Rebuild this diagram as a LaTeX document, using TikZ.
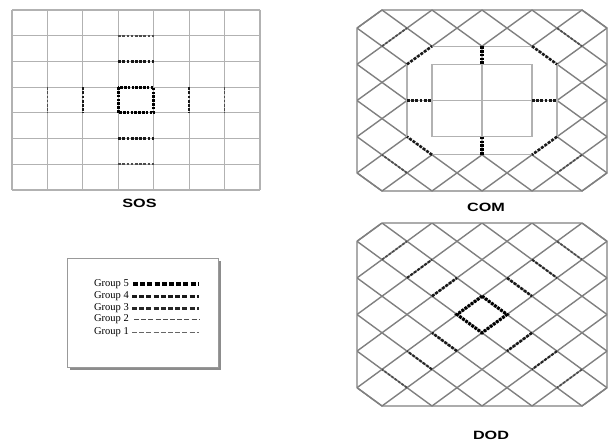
\documentclass[tikz,border=0pt]{standalone}
\usepackage{graphicx}
\usepackage{fontspec}
\setmainfont{Liberation Serif}
\newfontfamily\labfont{Liberation Sans}
\begin{document}
\begin{tikzpicture}[x=1pt,y=-1pt,
  sosgrid/.style={draw=black!30,line width=1.2pt},
  dgrid/.style={draw=black!50,line width=1.4pt},
  lightln/.style={draw=black!30,line width=1.3pt},
  gfive/.style={draw=black,line width=3.2pt,dash pattern=on 2.6pt off 1.2pt},
  gfour/.style={draw=black!90,line width=2.6pt,dash pattern=on 2.8pt off 1.4pt},
  gthree/.style={draw=black!85,line width=2.1pt,dash pattern=on 2.8pt off 1.5pt},
  gtwo/.style={draw=black!70,line width=1.7pt,dash pattern=on 2.6pt off 1.6pt},
  gone/.style={draw=black!60,line width=1.2pt,dash pattern=on 3pt off 2pt},
  legdash/.style={dash pattern=on 5pt off 2.2pt},
  lab/.style={font=\labfont\bfseries\fontsize{12}{12}\selectfont,inner sep=0pt},
  legtxt/.style={font=\fontsize{10.5}{10.5}\selectfont,inner sep=0pt,anchor=east}]
\useasboundingbox (0,0) rectangle (609,444);
\fill[white] (0,0) rectangle (609,444);

% ---------------- SOS ----------------
\begin{scope}[xshift=12pt,yshift=-10pt,x=35.43pt,y=-25.71pt]
  \foreach \i in {0,...,7} {
    \draw[sosgrid] (\i,0) -- (\i,7);
    \draw[sosgrid] (0,\i) -- (7,\i);
  }
  \draw[gfive] (3,3) rectangle (4,4);
  \draw[gfour] (3,2) -- (4,2);
  \draw[gfour] (3,5) -- (4,5);
  \draw[gtwo] (3,1) -- (4,1);
  \draw[gtwo] (3,6) -- (4,6);
  \draw[gfour] (2,3) -- (2,4);
  \draw[gfour] (5,3) -- (5,4);
  \draw[gtwo] (1,3) -- (1,4);
  \draw[gtwo] (6,3) -- (6,4);
\end{scope}
\node[lab] (sos) at (139.5,203.5) {\scalebox{1.35}[1]{SOS}};

% ---------------- COM ----------------
\begin{scope}[xshift=357pt,yshift=-10pt,x=50pt,y=-36.2pt]
  \begin{scope}
    \clip (0,0) rectangle (5,5);
    \foreach \c in {0.5,1.5,...,9.5} \draw[dgrid] (\c,0) -- ({\c-5},5);
    \foreach \c in {-4.5,-3.5,...,4.5} \draw[dgrid] (\c,0) -- ({\c+5},5);
  \end{scope}
  \draw[dgrid] (0.5,0) -- (4.5,0) -- (5,0.5) -- (5,4.5) -- (4.5,5) -- (0.5,5) -- (0,4.5) -- (0,0.5) -- cycle;
  \fill[white] (1.5,1) -- (3.5,1) -- (4,1.5) -- (4,3.5) -- (3.5,4) -- (1.5,4) -- (1,3.5) -- (1,1.5) -- cycle;
  \draw[lightln] (1.5,1) -- (3.5,1);
  \draw[lightln] (4,1.5) -- (4,3.5);
  \draw[lightln] (3.5,4) -- (1.5,4);
  \draw[lightln] (1,3.5) -- (1,1.5);
  \draw[lightln] (1.5,1.5) rectangle (3.5,3.5);
  \draw[lightln] (2.5,1) -- (2.5,4);
  \draw[lightln] (1,2.5) -- (4,2.5);
  \draw[gfive] (2.5,1) -- (2.5,1.5);
  \draw[gfive] (2.5,3.5) -- (2.5,4);
  \draw[gfour] (1,2.5) -- (1.5,2.5);
  \draw[gfour] (3.5,2.5) -- (4,2.5);
  \draw[gfour] (1,1.5) -- (1.5,1);
  \draw[gfour] (3.5,1) -- (4,1.5);
  \draw[gfour] (4,3.5) -- (3.5,4);
  \draw[gfour] (1.5,4) -- (1,3.5);
  \draw[gtwo] (0.5,1) -- (1,0.5);
  \draw[gtwo] (4,0.5) -- (4.5,1);
  \draw[gtwo] (4.5,4) -- (4,4.5);
  \draw[gtwo] (1,4.5) -- (0.5,4);
\end{scope}
\node[lab] (com) at (486,207.5) {\scalebox{1.35}[1]{COM}};

% ---------------- DOD ----------------
\begin{scope}[xshift=357pt,yshift=-223pt,x=50pt,y=-36.6pt]
  \begin{scope}
    \clip (0,0) rectangle (5,5);
    \foreach \c in {0.5,1.5,...,9.5} \draw[dgrid] (\c,0) -- ({\c-5},5);
    \foreach \c in {-4.5,-3.5,...,4.5} \draw[dgrid] (\c,0) -- ({\c+5},5);
  \end{scope}
  \draw[dgrid] (0.5,0) -- (4.5,0) -- (5,0.5) -- (5,4.5) -- (4.5,5) -- (0.5,5) -- (0,4.5) -- (0,0.5) -- cycle;
  \draw[gfive] (2.5,2) -- (3,2.5) -- (2.5,3) -- (2,2.5) -- cycle;
  \draw[gfour] (1.5,2) -- (2,1.5);
  \draw[gfour] (3,1.5) -- (3.5,2);
  \draw[gfour] (3.5,3) -- (3,3.5);
  \draw[gfour] (2,3.5) -- (1.5,3);
  \draw[gthree] (1,1.5) -- (1.5,1);
  \draw[gthree] (3.5,1) -- (4,1.5);
  \draw[gthree] (4,3.5) -- (3.5,4);
  \draw[gthree] (1.5,4) -- (1,3.5);
  \draw[gtwo] (0.5,1) -- (1,0.5);
  \draw[gtwo] (4,0.5) -- (4.5,1);
  \draw[gtwo] (4.5,4) -- (4,4.5);
  \draw[gtwo] (1,4.5) -- (0.5,4);
\end{scope}
\node[lab] (dod) at (491,435) {\scalebox{1.35}[1]{DOD}};

% ---------------- Legend ----------------
\fill[black!45] (70,261) rectangle (221,370);
\draw[black!40,line width=0.8pt,fill=white] (67,258) rectangle (218,367);
\node[legtxt] (t5) at (129,284) {Group 5};
\node[legtxt] (t4) at (129,296.5) {Group 4};
\node[legtxt] (t3) at (129,308.5) {Group 3};
\node[legtxt] (t2) at (129,319.5) {Group 2};
\node[legtxt] (t1) at (129,332.5) {Group 1};
\draw[gfive,legdash] ([xshift=4pt]t5.east) -- ++(66,0);
\draw[gfour,legdash] ([xshift=3pt]t4.east) -- ++(67,0);
\draw[gthree,legdash] ([xshift=3pt]t3.east) -- ++(67,0);
\draw[gtwo,legdash] ([xshift=5pt]t2.east) -- ++(65,0);
\draw[gone,legdash] ([xshift=3pt]t1.east) -- ++(67,0);
\end{tikzpicture}
\end{document}
